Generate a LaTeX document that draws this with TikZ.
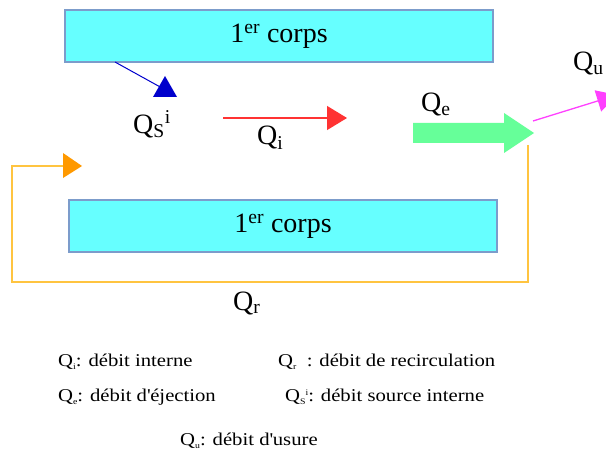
\documentclass[tikz,border=0pt]{standalone}
\usepackage{fontspec}
\setmainfont{Liberation Serif}
\newfontfamily\legfont[FakeStretch=1.15]{Liberation Serif}
\usetikzlibrary{arrows.meta}
\definecolor{boxfill}{HTML}{66FFFF}
\definecolor{boxline}{HTML}{7C9CCB}
\definecolor{sblue}{HTML}{0000CC}
\definecolor{sred}{HTML}{FF3333}
\definecolor{sgreen}{HTML}{66FF99}
\definecolor{smag}{HTML}{FF40FF}
\definecolor{sorange}{HTML}{FF9900}
\definecolor{sorline}{HTML}{FFC440}
\newcommand{\myBig}{\fontsize{28}{32}\selectfont}
\newcommand{\myLeg}{\legfont\fontsize{18}{21}\selectfont}
\newcommand{\myTiny}{\fontsize{8.5}{9}\selectfont}
\newcommand{\lsub}[1]{\raisebox{-3.5pt}{\myTiny #1}}
\begin{document}
\begin{tikzpicture}[x=1pt,y=-1pt,
  corpsbox/.style={draw=boxline,line width=1.5pt,fill=boxfill,minimum height=52pt,inner sep=0pt,font=\myBig},
  lbl/.style={anchor=base west,inner sep=0pt,font=\myBig},
  legtext/.style={anchor=base west,inner sep=0pt,font=\myLeg}]
\useasboundingbox (0,0) rectangle (606,452);
\clip (0,0) rectangle (606,452);
% boxes
\node[corpsbox,minimum width=428pt] (top) at (279,36) {1\textsuperscript{er} corps};
\node[corpsbox,minimum width=428pt] (bot) at (283,226) {1\textsuperscript{er} corps};
% blue source
\coordinate (bs) at (115,62);
\coordinate (be) at (162,88);
\draw[sblue,line width=1pt] (bs) -- (be);
\fill[sblue] (153,97) -- (177,97) -- (165,76) -- cycle;
% red internal
\coordinate (rs) at (223,118);
\coordinate (re) at (347,118);
\draw[sred,line width=1.3pt,-{Triangle[length=20pt,width=24pt]}] (rs) -- (re);
% green ejection
\fill[sgreen] (413,123) -- (504,123) -- (504,113) -- (534,133) -- (504,153) -- (504,143) -- (413,143) -- cycle;
% magenta
\coordinate (ms) at (533,121);
\coordinate (me) at (617,95);
\draw[smag,line width=1.3pt,-{Triangle[length=20pt,width=22pt]}] (ms) -- (me);
% orange loop
\coordinate (o1) at (528,145);
\coordinate (o2) at (12,282);
\coordinate (o3) at (82,166);
\draw[sorline,line width=1.2pt] (o1) |- (o2) |- (63,166);
\fill[sorange] (63,153) -- (63,178) -- (o3) -- cycle;
% labels
\node[lbl] (qs) at (133,133) {Q\textsubscript{S}\textsuperscript{i}};
\node[lbl] (qi) at (257,145) {Q\textsubscript{i}};
\node[lbl] (qe) at (421,112) {Q\textsubscript{e}};
\node[lbl] (qu) at (573,71) {Q\textsubscript{u}};
\node[lbl] (qr) at (233,310) {Q\textsubscript{r}};
% legend
\node[legtext] (l1) at (58,366) {Q\lsub{i}: débit interne};
\node[legtext] (l2) at (278,366) {Q\lsub{r}\ \ : débit de recirculation};
\node[legtext] (l3) at (58,401) {Q\lsub{e}: débit d\textquotesingle éjection};
\node[legtext] (l4) at (285,401) {Q\lsub{S}\raisebox{6pt}{\myTiny i}: débit source interne};
\node[legtext] (l5) at (180,445) {Q\lsub{u}: débit d\textquotesingle usure};
\end{tikzpicture}
\end{document}
